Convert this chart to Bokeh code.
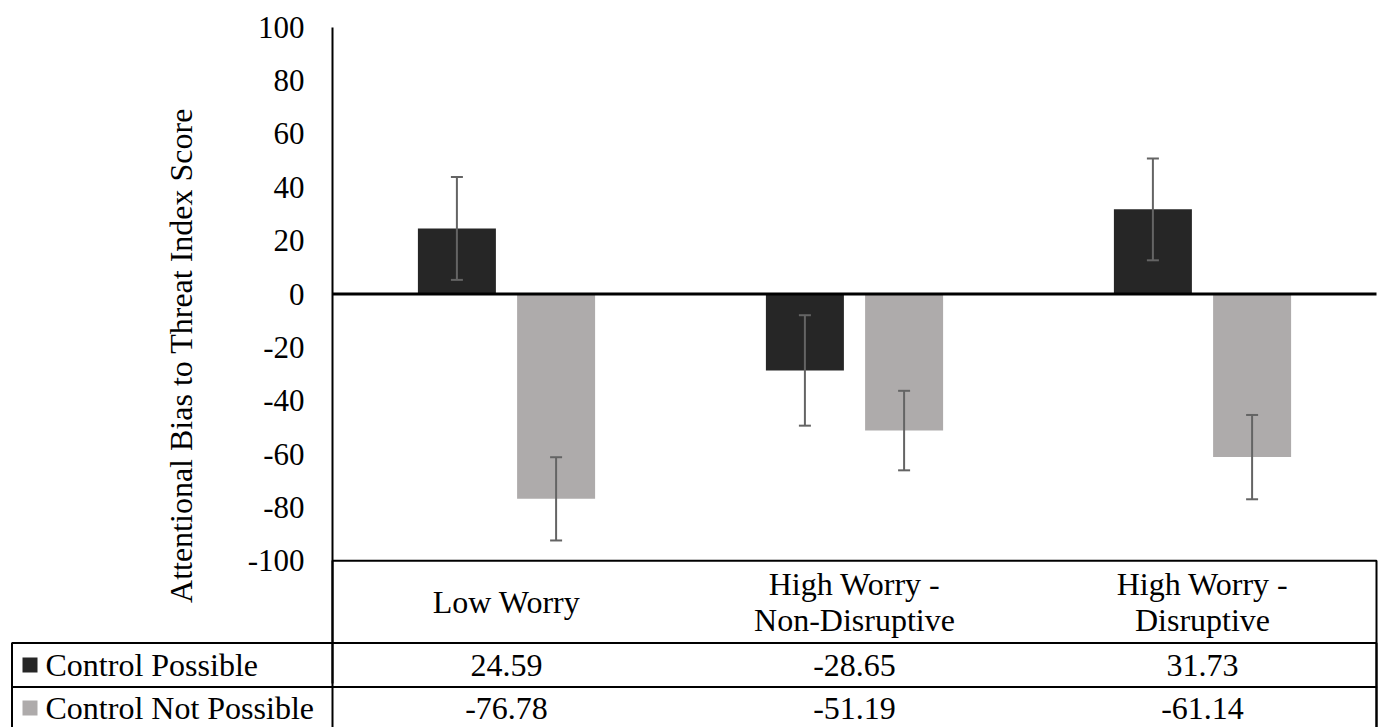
from bokeh.plotting import figure
from bokeh.models import (ColumnDataSource, Range1d, FixedTicker, Whisker, TeeHead,
                          BoxAnnotation)
from bokeh.transform import dodge
from bokeh.core.properties import value
from bokeh.embed import file_html
from bokeh.resources import INLINE

# ---------------- data ----------------
categories = ["Low Worry", "High Worry - Non-Disruptive", "High Worry - Disruptive"]
category_labels = ["Low Worry", "High Worry -\nNon-Disruptive", "High Worry -\nDisruptive"]
series_names = ["Control Possible", "Control Not Possible"]
control_possible = [24.59, -28.65, 31.73]
control_not_possible = [-76.78, -51.19, -61.14]
se_control_possible = [19.3, 20.7, 19.1]
se_control_not_possible = [15.6, 14.9, 15.8]
y_ticks = [-100, -80, -60, -40, -20, 0, 20, 40, 60, 80, 100]
y_title = "Attentional Bias to Threat Index Score"

# ---------------- style / layout ----------------
FONT = "Liberation Serif"
C_DARK = "#262626"
C_LIGHT = "#AEABAB"
C_ERR = "#646464"
W, H = 1380, 727
N = len(categories)
Y_TOP_PX, Y_BOT_PX = 26.7, 560.3      # pixel rows of +100 and -100
PX_PER_UNIT = (Y_BOT_PX - Y_TOP_PX) / 200.0
AXIS_PX = 332.0                       # pixel column of the value axis
CAT_PX = 348.0                        # horizontal px per category
Y_MAX_R = 100 + Y_TOP_PX / PX_PER_UNIT
Y_MIN_R = 100 - (H - Y_TOP_PX) / PX_PER_UNIT
X_START = -AXIS_PX / CAT_PX
X_END = X_START + W / CAT_PX
BAR_W = 78 / CAT_PX
OFF = 49.6 / CAT_PX

def y_at(px):
    return 100 - (px - Y_TOP_PX) / PX_PER_UNIT

def x_at(px):
    return (px - AXIS_PX) / CAT_PX

X_TABLE_LEFT = x_at(11.5)
X_TABLE_RIGHT = N
Y_LINE1 = y_at(642.5)
Y_LINE2 = y_at(686.5)
Y_BOTTOM = y_at(731)
Y_HEADER = y_at(601)
Y_ROW1 = y_at(664.5)
Y_ROW2 = y_at(707.5)
Y_AXIS_END = y_at(683)

xc = [i + 0.5 for i in range(N)]
src = ColumnDataSource(dict(
    xc=xc,
    label=category_labels,
    cp=control_possible,
    cnp=control_not_possible,
    cp_lo=[v - e for v, e in zip(control_possible, se_control_possible)],
    cp_hi=[v + e for v, e in zip(control_possible, se_control_possible)],
    cnp_lo=[v - e for v, e in zip(control_not_possible, se_control_not_possible)],
    cnp_hi=[v + e for v, e in zip(control_not_possible, se_control_not_possible)],
    cp_txt=["%.2f" % v for v in control_possible],
    cnp_txt=["%.2f" % v for v in control_not_possible],
))

p = figure(x_range=Range1d(X_START, X_END), y_range=Range1d(Y_MIN_R, Y_MAX_R),
           width=W, height=H, output_backend="svg", toolbar_location=None,
           x_axis_location=None, min_border_left=0, min_border_right=0,
           min_border_top=0, min_border_bottom=0)
p.outline_line_color = None
p.grid.visible = False
p.background_fill_color = "white"
p.border_fill_color = "white"

ax = p.yaxis[0]
ax.fixed_location = 0
ax.bounds = (Y_AXIS_END, 100)
ax.ticker = FixedTicker(ticks=y_ticks)
ax.major_label_overrides = {t: str(t) for t in y_ticks}
ax.axis_line_color = "black"
ax.axis_line_width = 2
ax.major_tick_line_color = None
ax.minor_tick_line_color = None
ax.major_tick_out = 0
ax.major_tick_in = 0
ax.minor_tick_out = 0
ax.minor_tick_in = 0
ax.major_label_standoff = 28
ax.major_label_text_font = FONT
ax.major_label_text_font_size = "31px"
ax.major_label_text_color = "black"
ax.axis_label = y_title
ax.axis_label_text_font = FONT
ax.axis_label_text_font_size = "32px"
ax.axis_label_text_font_style = "normal"
ax.axis_label_text_color = "black"
ax.axis_label_standoff = 46

# bars
p.vbar(x=dodge("xc", -OFF), top="cp", bottom=0, width=BAR_W,
       source=src, fill_color=C_DARK, line_color=None)
p.vbar(x=dodge("xc", OFF), top="cnp", bottom=0, width=BAR_W,
       source=src, fill_color=C_LIGHT, line_color=None)

# zero line
p.segment(x0=0, x1=N, y0=0, y1=0, line_color="black", line_width=3)

# error bars
for base_off, lo, hi in [(-OFF, "cp_lo", "cp_hi"), (OFF, "cnp_lo", "cnp_hi")]:
    p.add_layout(Whisker(source=src, base=dodge("xc", base_off), lower=lo, upper=hi,
                         line_color=C_ERR, line_width=2, level="annotation",
                         upper_head=TeeHead(size=12, line_color=C_ERR, line_width=2),
                         lower_head=TeeHead(size=12, line_color=C_ERR, line_width=2)))

# data table grid
def box(left, right, top, bottom):
    p.add_layout(BoxAnnotation(left=left, right=right, top=top, bottom=bottom,
                               fill_color=None, line_color="black", line_alpha=1,
                               line_width=2, level="annotation"))

box(0, X_TABLE_RIGHT, -100, Y_BOTTOM)
box(X_TABLE_LEFT, X_TABLE_RIGHT, Y_LINE1, Y_LINE2)
box(X_TABLE_LEFT, X_TABLE_RIGHT, Y_LINE2, Y_BOTTOM)

# legend keys + series names (first column of the table)
p.scatter(x=[x_at(29.5)] * 2, y=[Y_ROW1, Y_ROW2], marker="square", size=15,
          fill_color=[C_DARK, C_LIGHT], line_color=None)
p.text(x=[x_at(45)] * 2, y=[Y_ROW1, Y_ROW2], text=series_names, text_align="left",
       text_baseline="middle", text_font=value(FONT), text_font_size="32px",
       text_color="black")

# table texts
p.text(x="xc", y=Y_HEADER, text="label", source=src, text_align="center",
       text_baseline="middle", text_font=value(FONT), text_font_size="32px",
       text_line_height=1.0, text_color="black")
p.text(x="xc", y=Y_ROW1, text="cp_txt", source=src, text_align="center",
       text_baseline="middle", text_font=value(FONT), text_font_size="32px", text_color="black")
p.text(x="xc", y=Y_ROW2, text="cnp_txt", source=src, text_align="center",
       text_baseline="middle", text_font=value(FONT), text_font_size="32px", text_color="black")

open("out.html", "w").write(file_html(p, INLINE))
